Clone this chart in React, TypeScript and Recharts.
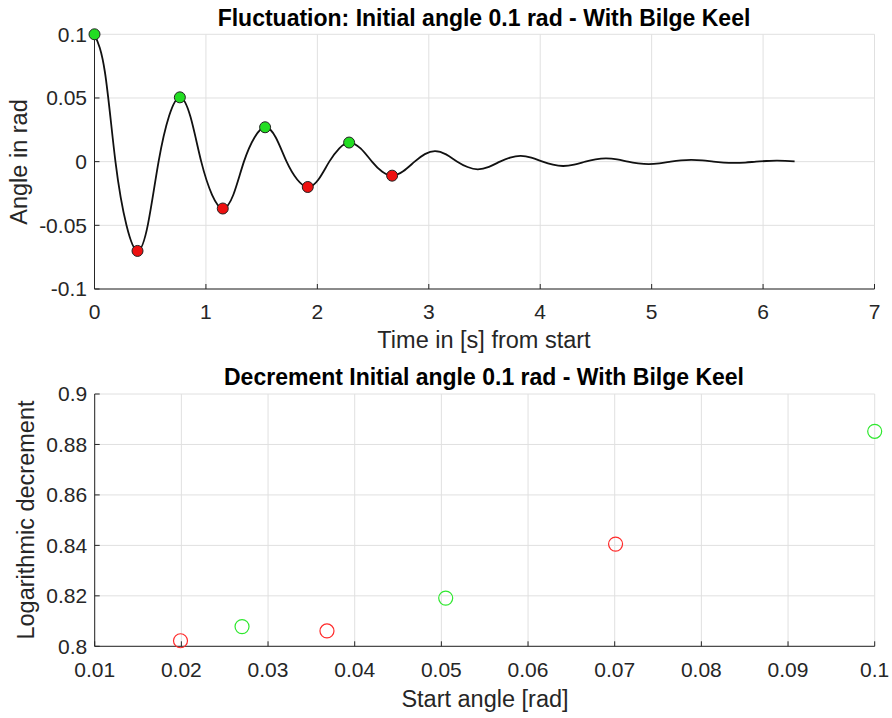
import React from 'react';
import { ComposedChart, ScatterChart, Line, Scatter, XAxis, YAxis, CartesianGrid } from 'recharts';

// ---- Top plot: roll angle time history ----
const timeS = [
  0, 0.094, 0.188, 0.287, 0.386, 0.48, 0.575, 0.67, 0.766, 0.862, 0.958, 1.055, 1.151, 1.246, 1.341,
  1.436, 1.531, 1.627, 1.724, 1.819, 1.914, 2.01, 2.107, 2.197, 2.285, 2.388, 2.49, 2.58, 2.671, 2.77,
  2.873, 2.965, 3.056, 3.155, 3.256, 3.348, 3.44, 3.54, 3.639, 3.73, 3.823, 3.92, 4.022, 4.114, 4.206,
  4.305, 4.405, 4.497, 4.589, 4.69, 4.788, 4.88, 4.972, 5.07, 5.171, 5.263, 5.355, 5.455, 5.554, 5.646,
  5.738, 5.84, 5.937, 6.03, 6.121, 6.2, 6.283,
];
const angleRad = [
  0.1, 0.07, 0, -0.05, -0.0701, -0.049, 0, 0.036, 0.0505, 0.035, 0, -0.026, -0.0368, -0.026, 0,
  0.019, 0.027, 0.019, 0, -0.014, -0.0199, -0.014, 0, 0.0105, 0.015, 0.0104, 0, -0.0078, -0.011, -0.0076,
  0, 0.0059, 0.0083, 0.0057, 0, -0.0042, -0.006, -0.0041, 0, 0.0032, 0.0046, 0.0032, 0, -0.0024, -0.0034,
  -0.0023, 0, 0.0018, 0.0026, 0.0018, 0, -0.0013, -0.0019, -0.0013, 0, 0.001, 0.0014, 0.001, 0, -0.0007,
  -0.001, -0.0007, 0, 0.0005, 0.0008, 0.0006, 0.0002,
];
const peakTime = [0, 0.766, 1.531, 2.285];
const peakAngle = [0.1, 0.0505, 0.027, 0.015];
const troughTime = [0.386, 1.151, 1.914, 2.671];
const troughAngle = [-0.0701, -0.0368, -0.0199, -0.011];
const timeTicks = [0, 1, 2, 3, 4, 5, 6, 7];
const angleTicks = [-0.1, -0.05, 0, 0.05, 0.1];

// ---- Bottom plot: logarithmic decrement ----
const redStartAngle = [0.0199, 0.0368, 0.0701];
const redDecrement = [0.8022, 0.8061, 0.8405];
const greenStartAngle = [0.027, 0.0505, 0.1];
const greenDecrement = [0.8078, 0.8191, 0.8852];
const startTicks = [0.01, 0.02, 0.03, 0.04, 0.05, 0.06, 0.07, 0.08, 0.09, 0.1];
const decTicks = [0.8, 0.82, 0.84, 0.86, 0.88, 0.9];

const lineData = timeS.map((t, i) => ({ t, v: angleRad[i] }));
const peakData = peakTime.map((t, i) => ({ t, v: peakAngle[i] }));
const troughData = troughTime.map((t, i) => ({ t, v: troughAngle[i] }));
const redData = redStartAngle.map((a, i) => ({ a, d: redDecrement[i] }));
const greenData = greenStartAngle.map((a, i) => ({ a, d: greenDecrement[i] }));

const FONT = '"Liberation Sans", Arial, Helvetica, sans-serif';
const AXIS = '#262626';
const GRID = '#e0e0e0';
const tickStyle = { fontSize: 21, fill: AXIS, fontFamily: FONT };

const filledDot = (fill: string) => (p: any) => (
  <circle cx={p.cx} cy={p.cy} r={5.5} fill={fill} stroke="#222" strokeWidth={1} />
);
const openDot = (stroke: string) => (p: any) => (
  <circle cx={p.cx} cy={p.cy} r={7} fill="none" stroke={stroke} strokeWidth={1.2} />
);

const Txt = ({ x, y, size, bold, rotate, children }: any) => (
  <div
    style={{
      position: 'absolute',
      left: x,
      top: y,
      transform: `translate(-50%, -50%)${rotate ? ' rotate(-90deg)' : ''}`,
      fontFamily: FONT,
      fontSize: size,
      fontWeight: bold ? 'bold' : 'normal',
      color: bold ? '#000' : AXIS,
      whiteSpace: 'nowrap',
      lineHeight: 1,
    }}
  >
    {children}
  </div>
);

export default function App() {
  return (
    <div style={{ position: 'absolute', left: 0, top: 0, width: 892, height: 718, background: '#fff', overflow: 'hidden' }}>
      <div style={{ position: 'absolute', left: 0, top: 0 }}>
        <ComposedChart width={892} height={360} margin={{ top: 34.3, right: 17.5, left: 34.5, bottom: 41 }}>
          <CartesianGrid stroke={GRID} strokeWidth={1} horizontal vertical />
          <XAxis
            type="number"
            dataKey="t"
            domain={[0, 7]}
            ticks={timeTicks}
            height={30}
            stroke={AXIS}
            tick={tickStyle}
            tickSize={-5}
            tickMargin={20.5}
            interval={0}
          />
          <YAxis
            type="number"
            domain={[-0.1, 0.1]}
            ticks={angleTicks}
            width={60}
            stroke={AXIS}
            tick={tickStyle}
            tickSize={-5}
            tickMargin={12.5}
            interval={0}
          />
          <Scatter data={peakData} dataKey="v" shape={filledDot('#22dd22')} isAnimationActive={false} />
          <Scatter data={troughData} dataKey="v" shape={filledDot('#ee1111')} isAnimationActive={false} />
          <Line data={lineData} dataKey="v" type="natural" stroke="#111" strokeWidth={1.8} dot={false} isAnimationActive={false} />
        </ComposedChart>
      </div>
      <div style={{ position: 'absolute', left: 0, top: 360 }}>
        <ScatterChart width={892} height={358} margin={{ top: 34, right: 17.3, left: 34.7, bottom: 41.7 }}>
          <CartesianGrid stroke={GRID} strokeWidth={1} horizontal vertical />
          <XAxis
            type="number"
            dataKey="a"
            domain={[0.01, 0.1]}
            ticks={startTicks}
            height={30}
            stroke={AXIS}
            tick={tickStyle}
            tickSize={-5}
            tickMargin={20.5}
            interval={0}
            tickFormatter={(v: number) => String(v)}
          />
          <YAxis
            type="number"
            dataKey="d"
            domain={[0.8, 0.9]}
            ticks={decTicks}
            width={60}
            stroke={AXIS}
            tick={tickStyle}
            tickSize={-5}
            tickMargin={12.5}
            interval={0}
            tickFormatter={(v: number) => String(v)}
          />
          <Scatter data={redData} shape={openDot('#ff2a2a')} isAnimationActive={false} />
          <Scatter data={greenData} shape={openDot('#2ee82e')} isAnimationActive={false} />
        </ScatterChart>
      </div>
      <Txt x={484} y={18} size={23} bold>Fluctuation: Initial angle 0.1 rad - With Bilge Keel</Txt>
      <Txt x={484} y={341} size={23.5}>Time in [s] from start</Txt>
      <Txt x={20} y={162} size={23.5} rotate>Angle in rad</Txt>
      <Txt x={484} y={377} size={23} bold>Decrement Initial angle 0.1 rad - With Bilge Keel</Txt>
      <Txt x={485} y={700} size={23.5}>Start angle [rad]</Txt>
      <Txt x={27} y={520} size={23.5} rotate>Logarithmic decrement</Txt>
    </div>
  );
}
